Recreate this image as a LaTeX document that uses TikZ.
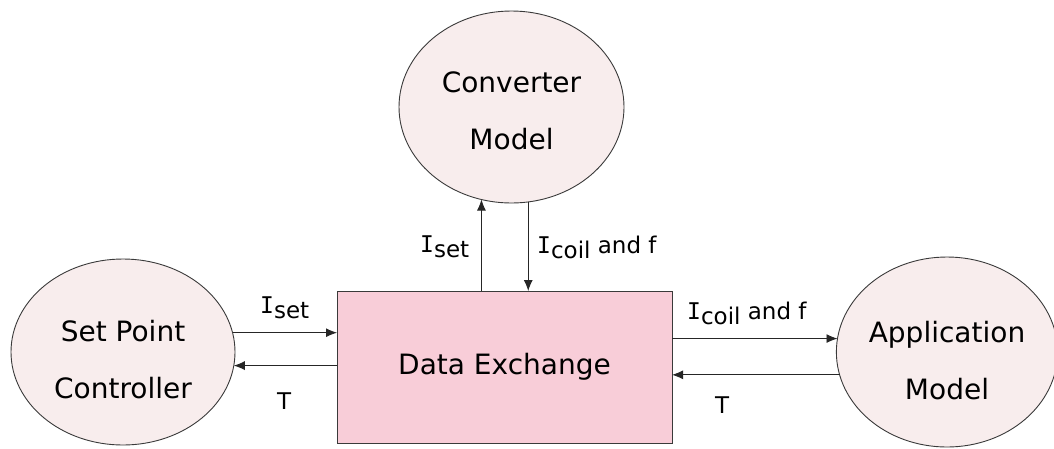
\documentclass[tikz,border=0pt]{standalone}
\usepackage{fontspec}
\setmainfont{DejaVu Sans}
\newfontfamily\seriffedI{DejaVu Sans Mono}
\usetikzlibrary{shapes.geometric,arrows.meta}
\definecolor{bubble}{HTML}{F8EDED}
\definecolor{exch}{HTML}{F8CDD8}
\definecolor{edge}{HTML}{3A3A3A}
% current symbol with a lowered index, e.g. \sig{set}
\newcommand{\sig}[1]{{\seriffedI I}\raisebox{-5pt}{#1}}
% invisible strut that pushes a two-line caption down inside its ellipse
\newcommand{\lift}[1]{\rule{0pt}{#1}}

\begin{document}
\begin{tikzpicture}[x=1pt,y=-1pt,
  model/.style={ellipse, draw=edge, fill=bubble, line width=0.9pt,
    inner sep=0pt, outer sep=0pt, align=center,
    font=\fontsize{28}{57}\selectfont},
  hub/.style={rectangle, draw=edge, fill=exch, line width=0.9pt,
    inner sep=0pt, outer sep=0pt, minimum width=335pt, minimum height=152pt,
    font=\fontsize{28}{34}\selectfont},
  flow/.style={draw=black!85, line width=0.9pt, -{Latex[length=11pt,width=9pt]}},
  sigl/.style={font=\fontsize{23}{27}\selectfont, inner sep=0pt, anchor=base west}]

\useasboundingbox (0,0) rectangle (1054,448);

% blocks
\node[model, minimum width=225pt, minimum height=192pt] (cv) at (511.5,107) {\lift{29pt}Converter\\Model};
\node[model, minimum width=224pt, minimum height=186pt] (sp) at (123,352) {\lift{37pt}Set Point\\Controller};
\node[model, minimum width=212pt, minimum height=190pt] (ap) at (947,352) {\lift{39pt}Application\\Model};
\node[hub] (de) at (504.5,367) {Data Exchange};

% set point controller <-> data exchange
\draw[flow] (sp.10.9) -- (sp.10.9 -| de.west);
\draw[flow] (sp.-7.7 -| de.west) -- (sp.-7.7);

% data exchange <-> converter model
\draw[flow] (cv.252.3 |- de.north) -- (cv.252.3);
\draw[flow] (cv.280.5) -- (cv.280.5 |- de.north);

% data exchange <-> application model
\draw[flow] (ap.173 -| de.east) -- (ap.173);
\draw[flow] (ap.192.5) -- (ap.192.5 -| de.east);

% signal labels
\node[sigl] (l1) at (260,313) {\sig{set}};
\node[sigl] (l2) at (277,409) {T};
\node[sigl] (l3) at (420,252) {\sig{set}};
\node[sigl] (l4) at (537,253) {\sig{coil} and f};
\node[sigl] (l5) at (687,319) {\sig{coil} and f};
\node[sigl] (l6) at (715,413) {T};
\end{tikzpicture}
\end{document}
